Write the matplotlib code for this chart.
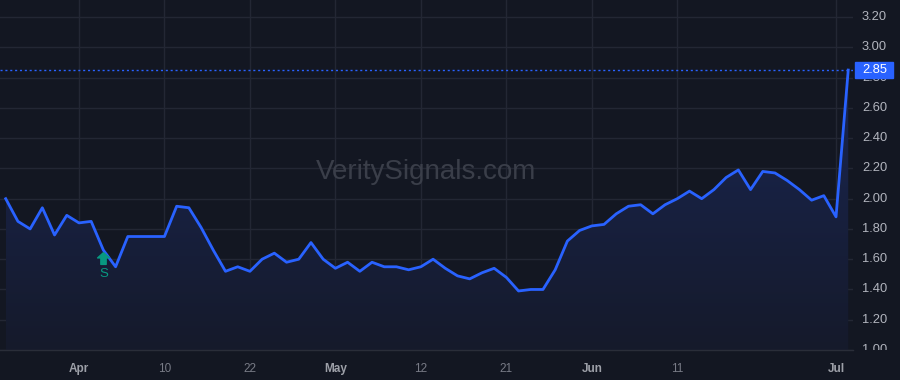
import numpy as np
import matplotlib.pyplot as plt
from matplotlib.patches import Rectangle
from matplotlib.path import Path
from matplotlib.transforms import ScaledTranslation
from matplotlib.colors import LinearSegmentedColormap

plt.rcParams['font.family'] = ['Liberation Sans', 'DejaVu Sans']

# daily closes, one per trading day (Mar 24 .. Jul 2)
prices = [2.00, 1.85, 1.80, 1.94, 1.76, 1.89, 1.84, 1.85, 1.66, 1.55,
          1.75, 1.75, 1.75, 1.75, 1.95, 1.94, 1.81, 1.66, 1.52, 1.55,
          1.52, 1.60, 1.64, 1.58, 1.60, 1.71, 1.60, 1.54, 1.58, 1.52,
          1.58, 1.55, 1.55, 1.53, 1.55, 1.60, 1.54, 1.49, 1.47, 1.51,
          1.54, 1.48, 1.39, 1.40, 1.40, 1.53, 1.72, 1.79, 1.82, 1.83,
          1.90, 1.95, 1.96, 1.90, 1.96, 2.00, 2.05, 2.00, 2.06, 2.14,
          2.19, 2.06, 2.18, 2.17, 2.12, 2.06, 1.99, 2.02, 1.88, 2.85]

tick_idx = [6, 13, 20, 27, 34, 41, 48, 55, 68]
tick_lbl = ['Apr', '10', '22', 'May', '12', '21', 'Jun', '11', 'Jul']
month_lbls = {'Apr', 'May', 'Jun', 'Jul'}

yticks = [1.00, 1.20, 1.40, 1.60, 1.80, 2.00, 2.20, 2.40, 2.60, 2.80, 3.00, 3.20]
signal_idx = 8
signal_lbl = 'S'
last_price = prices[-1]

bg = '#131722'
grid_c = '#232734'
line_c = '#2962ff'
sig_c = '#089981'

fig = plt.figure(figsize=(9, 3.8), dpi=100, facecolor=bg)
ax = fig.add_axes([0, 30 / 380, 853 / 900, 350 / 380])
ax.set_facecolor(bg)
x = np.arange(len(prices))
ylo, yhi = 1.0, 3.313
ax.set_xlim(-0.467, 69.39)
ax.set_ylim(ylo, yhi)

for t in yticks:
    ax.axhline(t, color=grid_c, lw=1, zorder=0)
for t in tick_idx:
    ax.axvline(t, color=grid_c, lw=1, zorder=0)

# gradient area under the line
poly = ax.fill_between(x, prices, ylo, color='none', lw=0)
grad = np.linspace(0.0, 1.0, 256).reshape(-1, 1)
cmap = LinearSegmentedColormap.from_list('g', ['#151a2b', '#1a2652'])
im = ax.imshow(grad, cmap=cmap, aspect='auto', origin='lower',
               extent=[x[0], x[-1], ylo, max(prices)], zorder=1)
im.set_clip_path(poly.get_paths()[0], transform=ax.transData)

ax.plot(x, prices, color=line_c, lw=2, zorder=3)
ax.axhline(last_price, color=line_c, lw=1, ls=(0, (1.5, 2)), zorder=2)

# signal marker: short fat up arrow with label below
arrow = Path([(0, 1), (-1, 0.1), (-0.45, 0.1), (-0.45, -1), (0.45, -1),
              (0.45, 0.1), (1, 0.1), (0, 1)])
ax.plot([signal_idx], [prices[signal_idx]], marker=arrow, ms=8.5, color=sig_c, lw=0,
        zorder=4, transform=ax.transData + ScaledTranslation(0, -8 / 100, fig.dpi_scale_trans))
ax.text(signal_idx, prices[signal_idx], signal_lbl, color=sig_c, fontsize=9.5,
        ha='center', va='center', zorder=4,
        transform=ax.transData + ScaledTranslation(0, -23.5 / 100, fig.dpi_scale_trans))

# watermark
ax.text(0.5, 0.509, 'VeritySignals.com', transform=ax.transAxes, ha='center', va='center',
        fontsize=20, color='#3a3e49', zorder=2)

for s in ax.spines.values():
    s.set_visible(False)
ax.set_xticks([])
ax.set_yticks([])
ax.plot([0, 1], [0, 0], transform=ax.transAxes, color='#2a2e39', lw=1, clip_on=False)

# price scale on the right
lax = fig.add_axes([853 / 900, 30 / 380, 47 / 900, 350 / 380])
lax.set_facecolor(bg)
lax.set_ylim(ylo, yhi)
lax.set_xlim(0, 1)
lax.axis('off')
for t in yticks:
    # the 2.80 label sits mostly behind the last-price tag, as in the original
    lax.text(0.19, t, f'{t:.2f}', color='#b2b5be', fontsize=9.3, va='center', ha='left',
             clip_on=True, zorder=2)
lax.add_patch(Rectangle((0.04, last_price - 0.055), 0.81, 0.11, color=line_c, zorder=3))
lax.text(0.19, last_price, f'{last_price:.2f}', color='white', fontsize=9.3,
         va='center', ha='left', zorder=4)

# time axis labels
for t, lbl in zip(tick_idx, tick_lbl):
    is_month = lbl in month_lbls
    ax.text(t, -0.053, lbl, transform=ax.get_xaxis_transform(), ha='center', va='center',
            fontsize=8.5, color='#9da0a8' if is_month else '#787b86',
            fontweight='bold' if is_month else 'normal', clip_on=False)

fig.savefig('out.png', dpi=100, facecolor=bg)
